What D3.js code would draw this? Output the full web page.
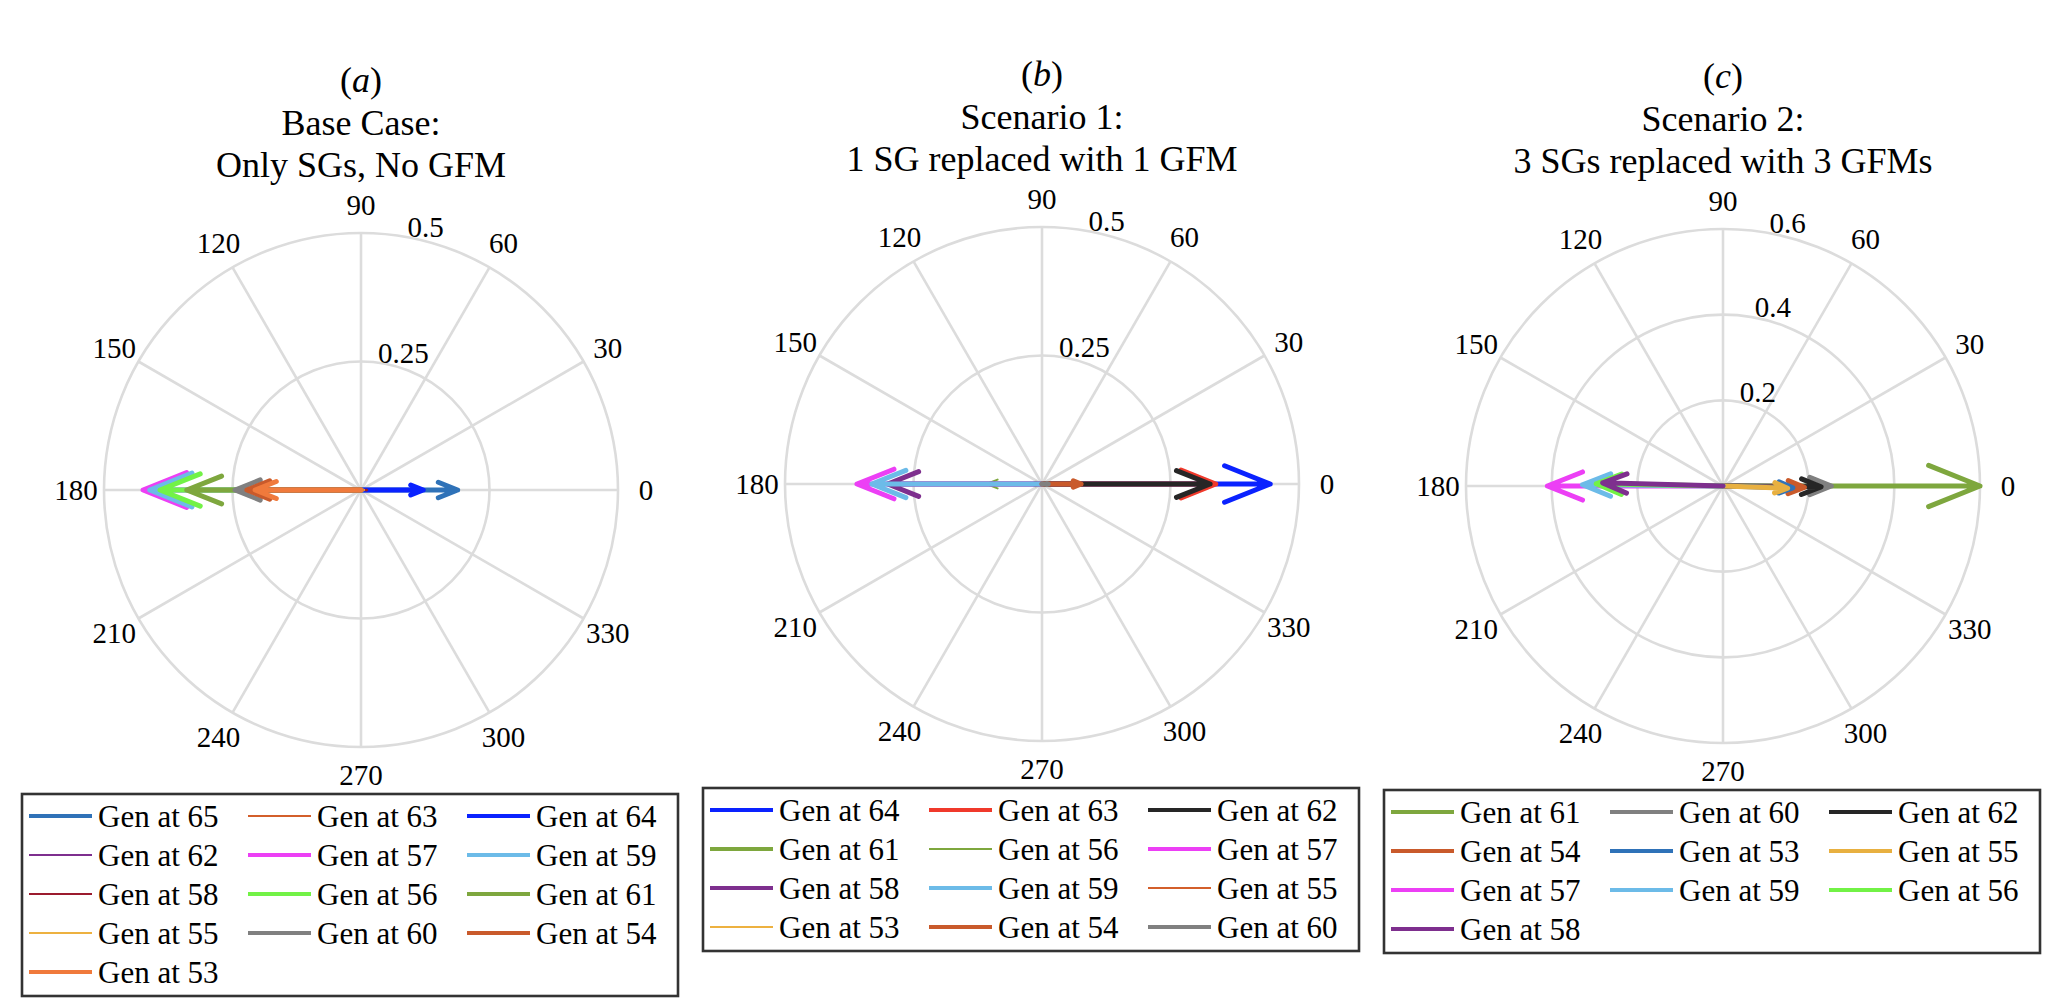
<!DOCTYPE html>
<html>
<head>
<meta charset="utf-8">
<script src="https://cdn.jsdelivr.net/npm/d3@7"></script>
<style>
  body { margin: 0; background: #fff; }
  text { font-family: "Liberation Serif", "Times New Roman", serif; fill: #000; }
</style>
</head>
<body>
<div id="chart"></div>
<script>
"use strict";

// ---- data ----
var thetaTicks = [0, 30, 60, 90, 120, 150, 180, 210, 240, 270, 300, 330]

// (a) base case
var gensA = ["Gen at 65", "Gen at 63", "Gen at 64", "Gen at 62", "Gen at 57", "Gen at 59", "Gen at 58",
             "Gen at 56", "Gen at 61", "Gen at 55", "Gen at 60", "Gen at 54", "Gen at 53"]
var magA = [0.188, 0.212, 0.121, 0.008, 0.424, 0.411, 0.012, 0.391, 0.339, 0.006, 0.245, 0.222, 0.206]
var angA = [0, 180, 0, 180, 180, 180, 0, 180, 180, 0, 180, 180, 180]
var rTicksA = [0.25, 0.5]

// (b) scenario 1
var gensB = ["Gen at 64", "Gen at 63", "Gen at 62", "Gen at 61", "Gen at 56", "Gen at 57",
             "Gen at 58", "Gen at 59", "Gen at 55", "Gen at 53", "Gen at 54", "Gen at 60"]
var magB = [0.444, 0.338, 0.327, 0.015, 0.108, 0.360, 0.300, 0.331, 0.02, 0.005, 0.076, 0.012]
var angB = [0, 0, 0, 180, 180, 180, 180, 180, 0, 0, 0, 0]
var rTicksB = [0.25, 0.5]

// (c) scenario 2
var gensC = ["Gen at 61", "Gen at 60", "Gen at 62", "Gen at 54", "Gen at 53",
             "Gen at 55", "Gen at 57", "Gen at 59", "Gen at 56", "Gen at 58"]
var magC = [0.600, 0.253, 0.229, 0.190, 0.163, 0.151, 0.410, 0.328, 0.296, 0.281]
var angC = [0, 0, -0.5, -1, -1.5, -2, 180, 179.5, 179, 178.5]
var rTicksC = [0.2, 0.4, 0.6]

// ---- styles ----
var colorsA = ["#2f72b8", "#d35f2b", "#0a22ff", "#7e2f8e", "#ec3ff5", "#6cbbe8", "#9b1b2e",
               "#72f246", "#7ea73e", "#edb140", "#808080", "#c95a2b", "#f07a3c"]
var thickA = [1, 0, 1, 0, 1, 1, 0, 1, 1, 0, 1, 1, 1]
var colorsB = ["#0a22ff", "#f0392b", "#262626", "#7ea73e", "#7ea73e", "#ec3ff5",
               "#7e2f8e", "#6cbbe8", "#d35f2b", "#edb140", "#c95a2b", "#808080"]
var thickB = [1, 1, 1, 1, 0, 1, 1, 1, 0, 0, 1, 1]
var colorsC = ["#7ea73e", "#808080", "#262626", "#c95a2b", "#2f72b8",
               "#e8b040", "#ec3ff5", "#6cbbe8", "#72f246", "#7e2f8e"]
var thickC = [1, 1, 1, 1, 1, 1, 1, 1, 1, 1]

var width = 2064, height = 1008
var R = 257

var panels = [
    { cx: 361, cy: 490, tag: "a", title: ["Base Case:", "Only SGs, No GFM"],
      gens: gensA, mag: magA, ang: angA, rTicks: rTicksA, colors: colorsA, thick: thickA },
    { cx: 1042, cy: 484, tag: "b", title: ["Scenario 1:", "1 SG replaced with 1 GFM"],
      gens: gensB, mag: magB, ang: angB, rTicks: rTicksB, colors: colorsB, thick: thickB },
    { cx: 1723, cy: 486, tag: "c", title: ["Scenario 2:", "3 SGs replaced with 3 GFMs"],
      gens: gensC, mag: magC, ang: angC, rTicks: rTicksC, colors: colorsC, thick: thickC }
]

var svg = d3.select('#chart').append('svg')
    .attr('width', width)
    .attr('height', height)

svg.append('rect').attr('width', width).attr('height', height).attr('fill', '#fff')

var rad = d => d * Math.PI / 180

panels.forEach(function (p) {
    var rMax = d3.max(p.rTicks)
    var r = d3.scaleLinear().domain([0, rMax]).range([0, R])
    var g = svg.append('g').attr('transform', 'translate(' + p.cx + ',' + p.cy + ')')

    // title
    var t = g.append('text').attr('text-anchor', 'middle').attr('y', -398).attr('font-size', 36)
    t.append('tspan').text('(')
    t.append('tspan').attr('font-style', 'italic').text(p.tag)
    t.append('tspan').text(')')
    p.title.forEach(function (line, i) {
        g.append('text')
            .attr('text-anchor', 'middle')
            .attr('y', -355 + i * 42)
            .attr('font-size', 36)
            .text(line)
    })

    // grid rings and spokes
    g.selectAll('circle.ring')
        .data(p.rTicks)
        .enter().append('circle')
        .attr('class', 'ring')
        .attr('r', d => r(d))
        .attr('fill', 'none')
        .attr('stroke', '#dcdcdc')
        .attr('stroke-width', 2.6)

    g.selectAll('line.spoke')
        .data(thetaTicks)
        .enter().append('line')
        .attr('class', 'spoke')
        .attr('x1', 0).attr('y1', 0)
        .attr('x2', d => R * Math.cos(rad(d)))
        .attr('y2', d => -R * Math.sin(rad(d)))
        .attr('stroke', '#dcdcdc')
        .attr('stroke-width', 2.6)

    // theta labels
    g.selectAll('text.theta')
        .data(thetaTicks)
        .enter().append('text')
        .attr('class', 'theta')
        .attr('x', d => (R + 28) * Math.cos(rad(d)))
        .attr('y', d => -(R + 28) * Math.sin(rad(d)))
        .attr('text-anchor', 'middle')
        .attr('dominant-baseline', 'central')
        .attr('font-size', 29)
        .text(d => d)

    // r labels along 80 degrees
    g.selectAll('text.rlab')
        .data(p.rTicks)
        .enter().append('text')
        .attr('class', 'rlab')
        .attr('x', d => r(d) * Math.cos(rad(80)) + 20)
        .attr('y', d => -r(d) * Math.sin(rad(80)) - 10)
        .attr('text-anchor', 'middle')
        .attr('dominant-baseline', 'central')
        .attr('font-size', 29)
        .text(d => d)

    // compass arrows (shaft + open head, like MATLAB compass)
    var arrows = p.gens.map((name, i) => ({ name: name, m: p.mag[i], a: p.ang[i], i: i }))
    g.selectAll('path.arrow')
        .data(arrows)
        .enter().append('path')
        .attr('class', 'arrow')
        .attr('d', function (d) {
            var L = r(d.m), th = rad(d.a)
            var pt = (u, v) => [u * L * Math.cos(th) - v * L * Math.sin(th),
                               -(u * L * Math.sin(th) + v * L * Math.cos(th))]
            var pts = [pt(0, 0), pt(1, 0), pt(0.8, 0.08), pt(1, 0), pt(0.8, -0.08)]
            return d3.line()(pts)
        })
        .attr('fill', 'none')
        .attr('stroke', d => p.colors[d.i])
        .attr('stroke-width', d => p.thick[d.i] ? 5 : 2)
        .attr('stroke-linejoin', 'round')
        .attr('stroke-linecap', 'round')

    // legend
    var nRows = Math.ceil(p.gens.length / 3)
    var boxX = -339, boxY = 304, boxW = 656, boxH = nRows * 39 + 7
    var leg = g.append('g').attr('transform', 'translate(' + boxX + ',' + boxY + ')')
    leg.append('rect')
        .attr('width', boxW).attr('height', boxH)
        .attr('fill', '#fff')
        .attr('stroke', '#333')
        .attr('stroke-width', 2.6)

    var items = leg.selectAll('g.item')
        .data(arrows)
        .enter().append('g')
        .attr('class', 'item')
        .attr('transform', d => 'translate(' + (7 + (d.i % 3) * 219) + ',' + (22 + Math.floor(d.i / 3) * 39) + ')')
    items.append('line')
        .attr('x1', 0).attr('x2', 63)
        .attr('stroke', d => p.colors[d.i])
        .attr('stroke-width', d => p.thick[d.i] ? 4.2 : 2.2)
    items.append('text')
        .attr('x', 69)
        .attr('dominant-baseline', 'central')
        .attr('font-size', 31)
        .text(d => d.name)
})
</script>
</body>
</html>
